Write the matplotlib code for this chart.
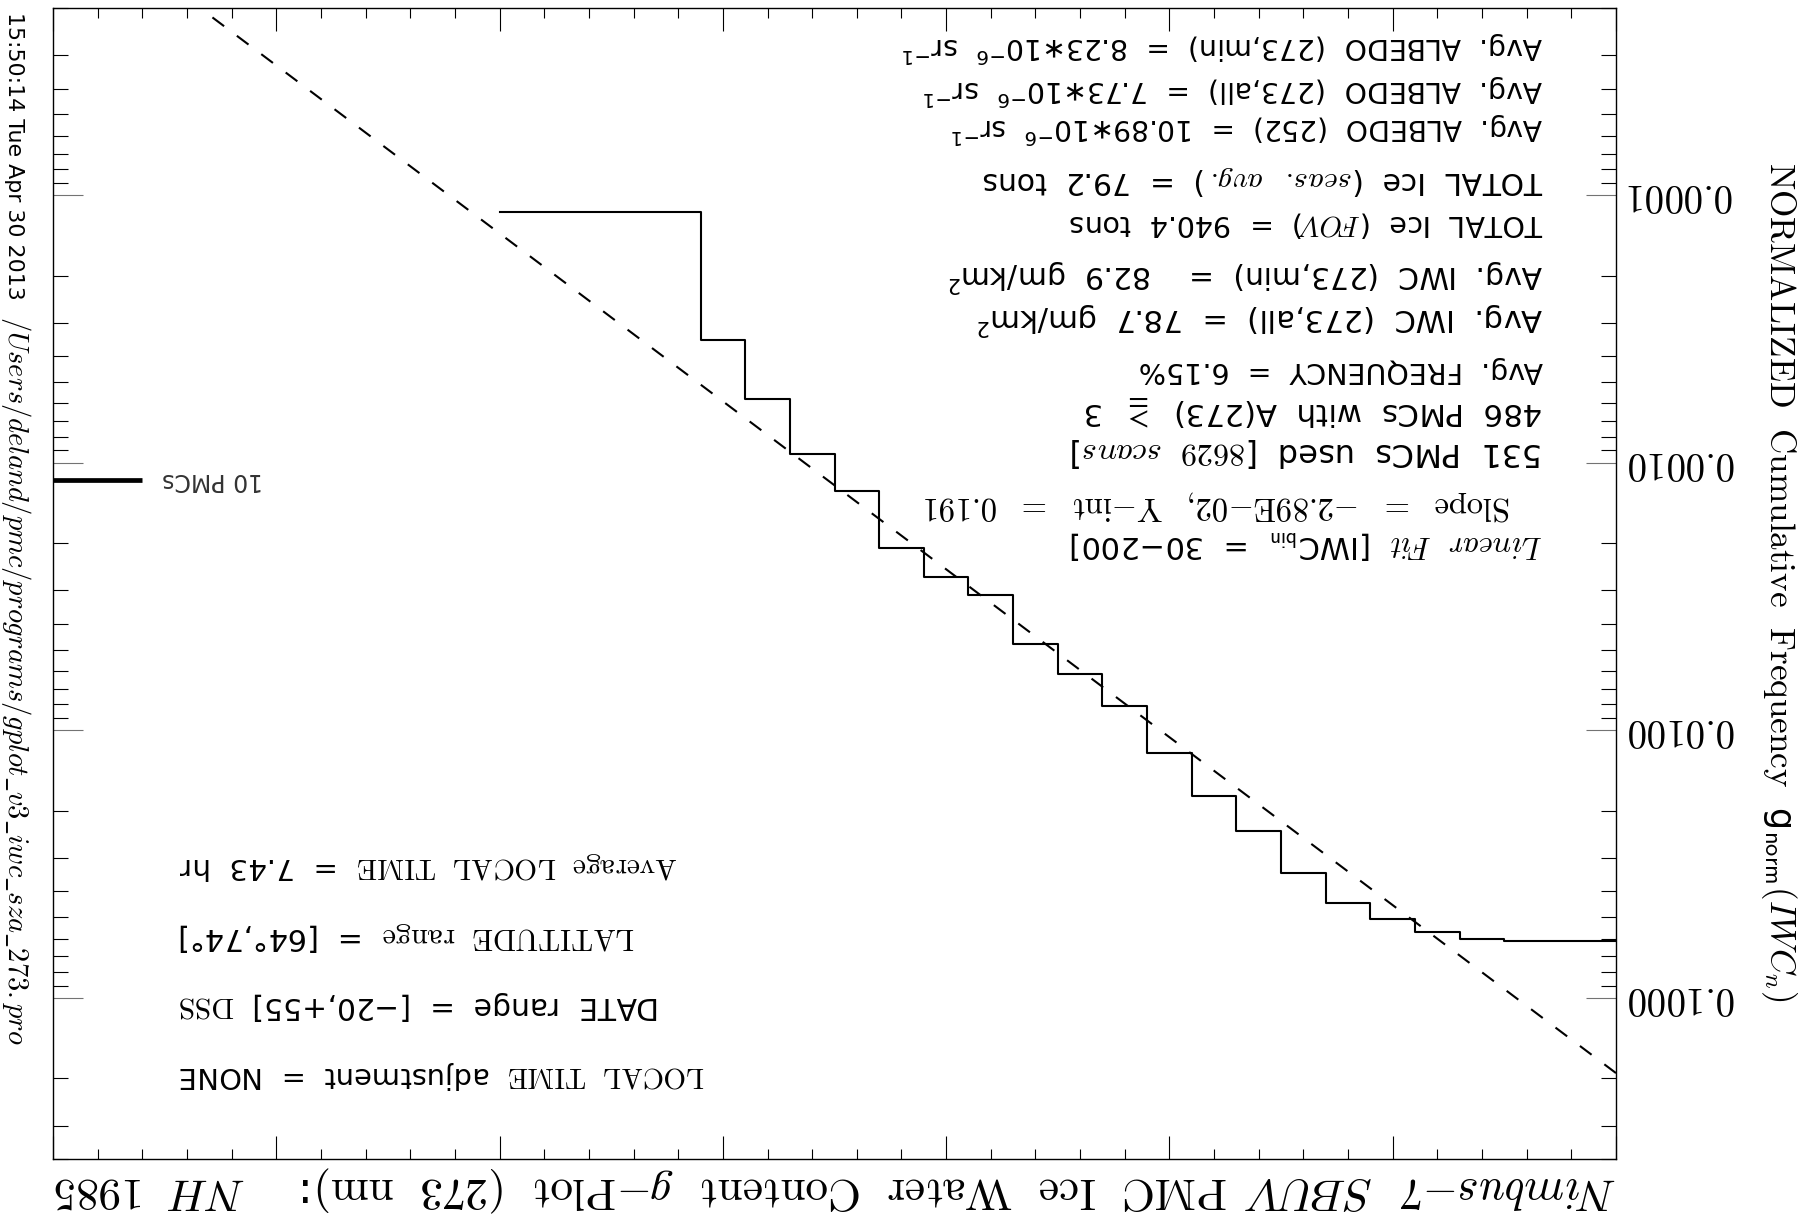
import numpy as np
import matplotlib
matplotlib.use("Agg")
import matplotlib.pyplot as plt
from matplotlib import ticker

plt.rcParams['mathtext.fontset'] = 'cm'
plt.rcParams['font.family'] = ['DejaVu Sans']
plt.rcParams['lines.scale_dashes'] = False

# cumulative PMC counts per 10 gm/km2 IWC bin (counts above bin / scans)
iwc_bins = [0, 10, 20, 30, 40, 50, 60, 70, 80, 90, 100, 110, 120, 130,
            140, 150, 160, 170, 180, 190, 200, 210, 220, 230, 240, 250]
pmc_counts = [531, 531, 531, 522, 491, 438, 381, 294, 205, 152, 105, 70, 53, 41,
              27, 23, 18, 11, 8, 5, 3, 1, 1, 1, 1, 1]
n_scans = 8629

# linear fit of ln(g) over IWC bins 30-200
fit_slope = -2.89e-2
fit_yint = 0.191

marker_pmcs = 10
ytick_vals = [1e-4, 1e-3, 1e-2, 1e-1]

W, H = 1803, 1221


def fx(px):
    return px / W


def fy(py):
    return 1 - py / H


fig = plt.figure(figsize=(W / 100, H / 100), dpi=100)
renderer = fig.canvas.get_renderer()
ax = fig.add_axes([fx(53), fy(1159), fx(1616) - fx(53), fy(8) - fy(1159)])


def fit_width(t, target, vertical=False):
    # rescale a label so its length matches the IDL layout
    bb = t.get_window_extent(renderer)
    cur = bb.height if vertical else bb.width
    scale = min(max(target / cur, 0.85), 1.15)
    t.set_fontsize(t.get_fontsize() * scale)


g_norm = np.array(pmc_counts) / n_scans
ax.step(iwc_bins, g_norm, where='mid', color='black', lw=1.5)

x_fit = np.linspace(0, 350, 200)
ax.plot(x_fit, fit_yint * np.exp(fit_slope * x_fit), color='black', lw=1.5,
        dashes=(10.5, 11.5))

# reference bar for 10 PMCs
ax.plot([350, 330], [marker_pmcs / n_scans] * 2, color='black', lw=3.4,
        solid_capstyle='butt', clip_on=False)
ax.text(325.5, marker_pmcs / n_scans, '10 PMCs', fontsize=17, color='#333333',
        rotation=180, rotation_mode='anchor', ha='right', va='center')

ax.set_yscale('log')
ax.set_xlim(350, 0)
ax.set_ylim(0.4, 2e-5)

ax.xaxis.set_major_locator(ticker.MultipleLocator(50))
ax.xaxis.set_minor_locator(ticker.MultipleLocator(10))
ax.yaxis.set_major_locator(ticker.FixedLocator(ytick_vals))
ax.yaxis.set_minor_locator(ticker.LogLocator(base=10, subs=np.arange(2, 10)))
ax.yaxis.set_minor_formatter(ticker.NullFormatter())
ax.yaxis.set_major_formatter(ticker.FuncFormatter(lambda v, p: r'$\mathrm{%.4f}$' % v))

ax.tick_params(which='both', direction='in', top=True, bottom=True, left=True,
               right=True, labelbottom=False, labeltop=False, labelleft=False,
               labelright=True, width=0.8, color='black')
ax.tick_params(axis='x', which='major', length=16.3)
ax.tick_params(axis='x', which='minor', length=7.3)
ax.tick_params(axis='y', which='major', length=21.6, color='0.45')
ax.tick_params(axis='y', which='minor', length=10.8)
ax.tick_params(axis='y', labelsize=28, labelrotation=180, pad=8)
for lab in ax.get_yticklabels():
    lab.set_va('center')
for sp in ax.spines.values():
    sp.set_linewidth(1.0)

# statistics block (upside-down text, anchored at its visual right end)
# (anchor x, baseline y, length, math font, text)
stats = [
    (1543, 37, 639, 'dejavusans', r'Avg.  ALBEDO  (273,min)  =  8.23∗10$^{\mathsf{-6}}$  sr$^{\mathsf{-1}}$'),
    (1543, 80, 620, 'dejavusans', r'Avg.  ALBEDO  (273,all)  =  7.73∗10$^{\mathsf{-6}}$  sr$^{\mathsf{-1}}$'),
    (1543, 118, 591, 'dejavusans', r'Avg.  ALBEDO  (252)  =  10.89∗10$^{\mathsf{-6}}$  sr$^{\mathsf{-1}}$'),
    (1543, 172, 561, 'cm', r'TOTAL  Ice  ($\mathit{seas.\ \ avg.}$)  =  79.2  tons'),
    (1543, 215, 474, 'cm', r'TOTAL  Ice  ($\mathit{FOV}$)  =  940.4  tons'),
    (1543, 265, 593, 'dejavusans', r'Avg.  IWC  (273,min)  =    82.9  gm/km$^{\mathsf{2}}$'),
    (1543, 308, 565, 'dejavusans', r'Avg.  IWC  (273,all)  =  78.7  gm/km$^{\mathsf{2}}$'),
    (1543, 362, 403, 'cm', r'Avg.  FREQUENCY  =  6.15%'),
    (1543, 403, 459, 'cm', r'486  PMCs  with  A(273)  $\geqq$  3'),
    (1543, 443, 472, 'cm', r'531  PMCs  used  [$\mathit{8629\ \ scans}$]'),
    (1511, 497, 588, 'cm', r'$\mathrm{Slope\ \ =\ \ {-}2.89E{-}02,\ \ Y{-}int\ \ =\ \ 0.191}$'),
    (1543, 535, 472, 'cm', r'$\mathit{Linear\ \ Fit}$  [IWC$_{\mathsf{bin}}$  =  30−200]'),
]
for x, y, length, mfont, s in stats:
    t = fig.text(fx(x), fy(y), s, fontsize=21, rotation=180, rotation_mode='anchor',
                 ha='left', va='baseline', math_fontfamily=mfont)
    fit_width(t, length)

# selection block, anchored at its visual left end
selection = [
    (858, 499, r'$\mathrm{Average\ \ LOCAL\ \ TIME}$  =  7.43  hr'),
    (928, 455, r'$\mathrm{LATITUDE\ \ range}$  =  [64°,74°]'),
    (997, 480, r'DATE  range  =  [−20,+55]  $\mathrm{DSS}$'),
    (1067, 526, r'$\mathrm{LOCAL\ \ TIME}$  adjustment  =  NONE'),
]
for y, length, s in selection:
    t = fig.text(fx(179), fy(y), s, fontsize=22, rotation=180, rotation_mode='anchor',
                 ha='right', va='baseline')
    fit_width(t, length)

title = (r'$\mathit{Nimbus}{-}\mathit{7}\ \ \mathit{SBUV}\ \ \mathrm{PMC\ \ Ice\ \ Water\ \ Content}'
         r'\ \ \mathit{g}{-}\mathrm{Plot\ \ (273\ \ nm)}$:$\ \ \ \ \mathit{NH\ \ 1985}$')
t = fig.text(fx(835.5), fy(1178), title, fontsize=32.5, rotation=180, rotation_mode='anchor',
             ha='center', va='baseline')
fit_width(t, 1563)

ylabel = (r'$\mathrm{NORMALIZED\ \ Cumulative\ \ Frequency}\ \ $g'
          r'$_{\mathsf{norm}}(\mathit{IWC}_{n})$')
t = fig.text(fx(1770), fy(162), ylabel, fontsize=22, rotation=270, rotation_mode='anchor',
             ha='left', va='baseline')
fit_width(t, 867, vertical=True)

t = fig.text(fx(8), fy(12), '15:50:14 Tue Apr 30 2013', fontsize=15.8, rotation=270,
             rotation_mode='anchor', ha='left', va='baseline')
fit_width(t, 290, vertical=True)
t = fig.text(fx(8), fy(316), r'$\mathit{/Users/deland/pmc/programs/gplot\_v3\_iwc\_sza\_273.pro}$',
             fontsize=20.5, rotation=270, rotation_mode='anchor', ha='left', va='baseline')
fit_width(t, 729, vertical=True)

fig.savefig('out.png', dpi=100)
